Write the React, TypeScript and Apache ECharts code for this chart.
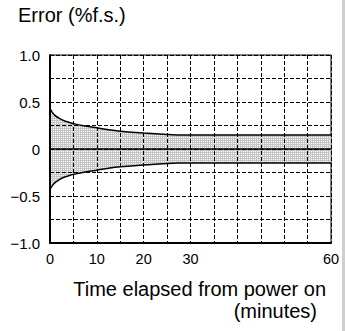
import React, { useEffect, useRef } from "react";
import * as echarts from "echarts";

const times = [0, 0.5, 1, 2, 3, 4, 5, 7.5, 10, 12.5, 15, 20, 25, 27.5, 30, 60];
const upperError = [0.43, 0.39, 0.36, 0.325, 0.3, 0.285, 0.27, 0.245, 0.225, 0.205, 0.19, 0.17, 0.155, 0.15, 0.15, 0.15];
const lowerError = [-0.43, -0.39, -0.36, -0.325, -0.3, -0.285, -0.27, -0.245, -0.225, -0.205, -0.19, -0.17, -0.155, -0.15, -0.15, -0.15];
const xTickLabels = [0, 10, 20, 30, 60];
const yTickLabels = [1, 0.5, 0, -0.5, -1];

const FONT = "'Liberation Sans', Arial, sans-serif";

function makeMesh(): any {
  try {
    const c = document.createElement("canvas");
    c.width = 2;
    c.height = 2;
    const ctx = c.getContext("2d");
    if (!ctx) return "#e0e0e0";
    ctx.fillStyle = "#ffffff";
    ctx.fillRect(0, 0, 2, 2);
    ctx.fillStyle = "#c4c4c4";
    ctx.fillRect(0, 0, 1, 2);
    ctx.fillRect(0, 0, 2, 1);
    return { image: c, repeat: "repeat" };
  } catch (e) {
    return "#e0e0e0";
  }
}

export default function App() {
  const ref = useRef<HTMLDivElement>(null);
  useEffect(() => {
    if (!ref.current) return;
    const chart = echarts.init(ref.current, null, { renderer: "svg" });
    const upper = times.map((t, i) => [t, upperError[i]]);
    const lower = times.map((t, i) => [t, lowerError[i]]);
    const fill = makeMesh();
    const dashed = { color: "#000", width: 1, type: [4, 2] as any };
    chart.setOption({
      animation: false,
      backgroundColor: "#ffffff",
      grid: {
        left: 50,
        top: 55,
        width: 281,
        height: 188,
        show: true,
        borderColor: "#000",
        borderWidth: 1,
        backgroundColor: "transparent",
      },
      xAxis: {
        type: "value",
        min: 0,
        max: 60,
        interval: 5,
        z: 2,
        axisLine: { show: true, onZero: false, lineStyle: { color: "#000", width: 2 } },
        axisTick: { show: false },
        axisLabel: {
          color: "#000",
          fontFamily: FONT,
          fontSize: 14.5,
          margin: 8,
          formatter: (v: number) => (xTickLabels.includes(v) ? String(v) : ""),
        },
        splitLine: { show: true, lineStyle: dashed },
      },
      yAxis: {
        type: "value",
        min: -1,
        max: 1,
        interval: 0.25,
        z: 2,
        axisLine: { show: true, onZero: false, lineStyle: { color: "#000", width: 2 } },
        axisTick: { show: false },
        axisLabel: {
          color: "#000",
          fontFamily: FONT,
          fontSize: 15,
          margin: 10,
          formatter: (v: number) => {
            const hit = yTickLabels.find((t) => Math.abs(t - v) < 1e-9);
            if (hit === undefined) return "";
            if (hit === 0) return "0";
            const s = Math.abs(hit).toFixed(1);
            return hit < 0 ? "\u2212" + s : s;
          },
        },
        splitLine: { show: true, lineStyle: dashed },
      },
      series: [
        {
          type: "line",
          data: upper,
          showSymbol: false,
          smooth: 0.3,
          lineStyle: { width: 0, opacity: 0 },
          areaStyle: { color: fill, opacity: 1, origin: 0 },
          z: 1,
          silent: true,
        },
        {
          type: "line",
          data: lower,
          showSymbol: false,
          smooth: 0.3,
          lineStyle: { width: 0, opacity: 0 },
          areaStyle: { color: fill, opacity: 1, origin: 0 },
          z: 1,
          silent: true,
        },
        {
          type: "line",
          data: upper,
          showSymbol: false,
          smooth: 0.3,
          lineStyle: { color: "#000", width: 1.5 },
          z: 4,
          markLine: {
            silent: true,
            symbol: "none",
            label: { show: false },
            lineStyle: { color: "#000", width: 1.5, type: "solid" },
            data: [{ yAxis: 0 }],
          },
        },
        {
          type: "line",
          data: lower,
          showSymbol: false,
          smooth: 0.3,
          lineStyle: { color: "#000", width: 1.5 },
          z: 4,
        },
      ],
      graphic: [
        {
          type: "text",
          left: 18,
          top: 5,
          style: { text: "Error (%f.s.)", font: `20px ${FONT}`, fill: "#000" },
        },
        {
          type: "text",
          right: 19,
          top: 279,
          style: { text: "Time elapsed from power on", font: `20px ${FONT}`, fill: "#000" },
        },
        {
          type: "text",
          right: 28,
          top: 301,
          style: { text: "(minutes)", font: `20px ${FONT}`, fill: "#000" },
        },
        {
          type: "rect",
          shape: { x: 342, y: 0, width: 3, height: 331 },
          style: { fill: "#cfcfcf" },
        },
      ],
    });
    return () => chart.dispose();
  }, []);
  return (
    <div
      ref={ref}
      style={{ position: "fixed", left: 0, top: 0, width: 345, height: 331 }}
    />
  );
}
